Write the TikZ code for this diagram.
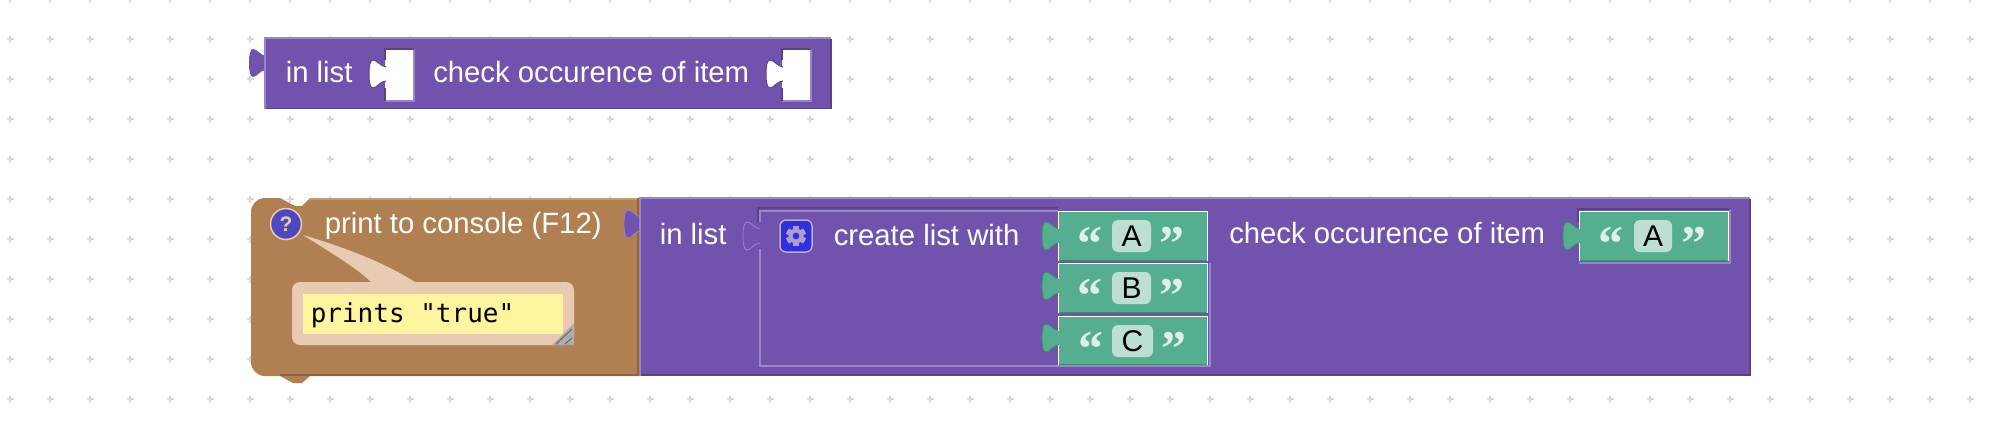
\documentclass[tikz,border=0pt]{standalone}
\usepackage{fontspec}
\setmainfont{Liberation Sans}
\setmonofont{DejaVu Sans Mono}
\newfontfamily\quotefont{Liberation Serif}
\definecolor{bpurple}{HTML}{7153AD}
\definecolor{lpurple}{HTML}{9A84C8}
\definecolor{dpurple}{HTML}{5A4289}
\definecolor{bbrown}{HTML}{B08052}
\definecolor{lbrown}{HTML}{C49A70}
\definecolor{dbrown}{HTML}{8D6642}
\definecolor{bgreen}{HTML}{55AE90}
\definecolor{lgreen}{HTML}{8CCBB5}
\definecolor{dgreen}{HTML}{3F8B72}
\definecolor{fgreen}{HTML}{BCDFD2}
\definecolor{bubble}{HTML}{E9CBB3}
\definecolor{note}{HTML}{FFF5A0}
\definecolor{gearblue}{HTML}{3030D8}
\definecolor{helpblue}{HTML}{4D49BF}
\tikzset{
	blocktext/.style={anchor=base west,inner sep=0pt,text=white,font=\fontsize{29.3}{31}\selectfont},
	fieldtext/.style={inner sep=0pt,text=black,font=\fontsize{30}{32}\selectfont},
	quotetext/.style={anchor=base,inner sep=0pt,text=fgreen!50!white,font=\quotefont\bfseries\fontsize{50}{52}\selectfont},
	tabcurve/.style={insert path={(1,7) .. controls (-5,6) and (-8,0) .. (-12,0) .. controls (-15,0) and (-16,6) .. (-16,14) .. controls (-16,22) and (-15,28) .. (-12,28) .. controls (-8,28) and (-5,21) .. (1,21)}},
	pzltab/.pic={
		\path[pic actions,draw=none,tabcurve] -- cycle;
		\path[pic actions,fill=none,tabcurve];
	}
}
\begin{document}
\begin{tikzpicture}[x=1pt,y=-1pt,line width=1.5pt]
	\useasboundingbox (0,0) rectangle (2000,432);
	\fill[white] (0,0) rectangle (2000,432);
	\foreach \x in {10,50,...,1970}{
		\foreach \y in {-1,39,...,399}{
			\draw[black!15] (\x-3.5,\y)--(\x+3.5,\y) (\x,\y-3.5)--(\x,\y+3.5);
		}
	}
	% top block
	\fill[bpurple] (265,38) rectangle (831,109);
	\pic[fill=bpurple] at (265,49) {pzltab};
	\draw[lpurple] (265,109)--(265,38)--(831,38);
	\draw[dpurple] (266,108.5)--(831,108.5)--(831,39);
	\foreach \x in {385,782}{
		\fill[white] (\x,49) rectangle (\x+29,101);
		\pic[fill=white,draw=dpurple,line width=1pt] at (\x,60) {pzltab};
		\fill[white] (\x-2,68) rectangle (\x+2,80);
		\draw[lpurple] (\x,101)--(\x+29,101)--(\x+29,49);
		\draw[dpurple] (\x,101)--(\x,88) (\x,60)--(\x,49)--(\x+29,49);
	}
	\node[blocktext] (inlistA) at (285,82) {in list};
	\node[blocktext] (checkA) at (432.5,82.5) {check occurence of item};
	% brown block
	\path[fill=bbrown] (251,212) arc[start angle=180,end angle=270,radius=14]
		--(280,198)--(295,206)--(302,206)--(310,198)--(639,198)--(639,376)--(310,376)
		--(302,383)--(293,383)--(280,376)--(265,376)
		arc[start angle=90,end angle=180,radius=14]--cycle;
	\draw[lbrown] (310,199)--(638,199);
	\draw[dbrown] (280,375)--(638,375)--(638,198);
	\node[circle,draw=bubble,fill=helpblue,minimum size=31pt,inner sep=0pt,text=bubble,font=\bfseries\fontsize{21}{22}\selectfont] (help) at (286,224) {?};
	\node[blocktext] (console) at (324,233) {print to console (F12)};
	\path[fill=bubble] (303,235) .. controls (340,246) and (385,262) .. (418,284)--(373,284) .. controls (360,270) and (330,252) .. cycle;
	\node[rounded corners=8pt,fill=bubble,minimum width=282pt,minimum height=63pt,inner sep=0pt] (bubblebox) at (433,313.5) {};
	\path[fill=black!32] (574,323)--(574,345)--(552,345)--cycle;
	\draw[black!60,line width=1pt] (556,344)--(572,329) (565,344)--(572,338);
	\node[fill=note,minimum width=260pt,minimum height=40pt,inner sep=0pt] (notebox) at (433,314) {};
	\node[anchor=base west,inner sep=0pt,text=black,font=\ttfamily\fontsize{26}{28}\selectfont] (prints) at (310,322) {prints "true"};
	% main block
	\fill[bpurple] (640,198) rectangle (1750,376);
	\pic[fill=bpurple,draw=lpurple,line width=.8pt] at (640,210) {pzltab};
	\draw[lpurple] (640,376)--(640,198)--(1750,198);
	\draw[dpurple] (641,375)--(1750,375)--(1750,199);
	\node[blocktext] (inlistB) at (659,244) {in list};
	\node[blocktext] (createlist) at (833,245) {create list with};
	\node[blocktext] (checkB) at (1228.5,243.5) {check occurence of item};
	% list block
	\draw[dpurple] (758,222)--(758,208)--(1058,208);
	\draw[lpurple] (1058,211)--(760,211)--(760,222) (760,249)--(760,366)--(1058,366);
	\pic[fill=bpurple,draw=lpurple,line width=.8pt] at (759,222) {pzltab};
	\draw[lpurple] (1058,366)--(1210,366)--(1210,263);
	\node[rounded corners=6pt,draw=lpurple!70!white,fill=gearblue,minimum size=32pt,inner sep=0pt] (gearbox) at (796,236) {};
	\fill[lpurple!80!white,even odd rule] (796,236) circle (7.5) (796,236) circle (3.5);
	\foreach \a in {0,60,...,300}{
		\fill[lpurple!80!white,rotate around={\a:(796,236)}] (793,226)--(799,226)--(799,230)--(793,230)--cycle;
	}
	% green blocks
	\foreach \name/\x/\y/\t/\b/\qa/\qb/\fa/\fb/\tx in {A/1058/211/222/261/1090/1172/1112/1151/A, B/1058/263/272/313/1090/1172/1112/1151/B, C/1058/316/324/365/1091/1174/1112/1153/C, D/1579/211/222/261/1611/1694/1634/1672/A}{
		\fill[bgreen] (\x,\y) rectangle (\x+149,\b);
		\pic[fill=bgreen,draw=dgreen,line width=.8pt] at (\x,\t) {pzltab};
		\draw[white,line width=.8pt] (\x,\b)--(\x,\t+21) (\x,\t+7)--(\x,\y)--(\x+149,\y)--(\x+149,\b);
		\draw[dgreen] (\x+1,\b-.5)--(\x+148,\b-.5);
		\node[rounded corners=6pt,fill=fgreen,minimum height=32pt,minimum width=\fb pt-\fa pt,inner sep=0pt] (field\name) at ({(\fa+\fb)/2},236+\y-211) {};
		\node[fieldtext] (letter\name) at (field\name) {\tx};
		\node[quotetext] (open\name) at (\qa,\y+49) {“};
		\node[quotetext] (close\name) at (\qb,\y+49) {”};
	}
	\draw[lpurple] (1579,263)--(1730,263)--(1730,209);
	\draw[dpurple] (1578,222)--(1578,209)--(1730,209);
\end{tikzpicture}
\end{document}
